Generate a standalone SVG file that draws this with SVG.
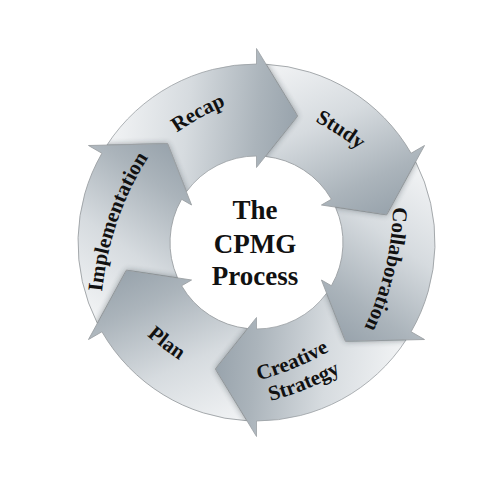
<svg xmlns="http://www.w3.org/2000/svg" xmlns:xlink="http://www.w3.org/1999/xlink" width="500" height="485" viewBox="0 0 500 485">
<style>
.arrow { fill: url(#g); stroke: #9b9fa3; stroke-width: 0.8; stroke-linejoin: miter; }
.shadow { fill: #1e2a33; opacity: 0.45; }
.lbl { font-family: "Liberation Serif", "Times New Roman", serif; font-weight: bold; font-size: 21px; fill: #111; text-anchor: middle; }
.ctr { font-family: "Liberation Serif", "Times New Roman", serif; font-weight: bold; font-size: 27px; fill: #111; text-anchor: middle; }
</style>
<defs>
<linearGradient id="g" gradientUnits="userSpaceOnUse" x1="-160" y1="-125" x2="40" y2="-105">
<stop offset="0" stop-color="#f7f8f9"/>
<stop offset="0.45" stop-color="#d6dbdf"/>
<stop offset="0.8" stop-color="#abb4bb"/>
<stop offset="1" stop-color="#98a3ac"/>
</linearGradient>
<filter id="blur" x="-50%" y="-50%" width="200%" height="200%">
<feGaussianBlur stdDeviation="3"/>
</filter>
<path id="arrow" class="arrow" d="M -149.57 -97.43 A 178.5 178.5 0 0 1 0 -178.5 L 0 -194 L 41.10 -126.49 L 0 -75 L 0 -86.5 A 86.5 86.5 0 0 0 -70.11 -50.66 L -88.99 -98.84 Z"/>
<clipPath id="clipA" clipPathUnits="userSpaceOnUse">
<path d="M -149.57 -97.43 A 178.5 178.5 0 0 1 0 -178.5 L 0 -194 L 41.10 -126.49 L 0 -75 L 0 -86.5 A 86.5 86.5 0 0 0 -70.11 -50.66 L -88.99 -98.84 Z"/>
</clipPath>
<polygon id="prevhead" class="shadow" points="-168,-97 -88.99,-98.84 -64.95,-37.5" filter="url(#blur)"/>
<path id="cwArc" d="M -150 73.7 A 300 300 0 0 1 150 73.7" transform="translate(0 0)"/>
<path id="cw" d="M -150 45.7 A 300 300 0 0 1 150 45.7"/>
<path id="ccw" d="M -150 -33.7 A 300 300 0 0 0 150 -33.7"/>
</defs>
<g id="connectors"></g>
<g id="recap">
<g transform="translate(256.5 242.5) rotate(0)">
<use xlink:href="#arrow" href="#arrow"/>
<g clip-path="url(#clipA)"><use xlink:href="#prevhead" href="#prevhead"/></g>
</g>
<text class="lbl" transform="translate(198 113) rotate(-29)"><textPath xlink:href="#cw" href="#cw" startOffset="50%">Recap</textPath></text>
</g>
<g id="study">
<g transform="translate(256.5 242.5) rotate(60)">
<use xlink:href="#arrow" href="#arrow"/>
<g clip-path="url(#clipA)"><use xlink:href="#prevhead" href="#prevhead"/></g>
</g>
<text class="lbl" transform="translate(340.5 130) rotate(33)"><textPath xlink:href="#cw" href="#cw" startOffset="50%">Study</textPath></text>
</g>
<g id="collaboration">
<g transform="translate(256.5 242.5) rotate(120)">
<use xlink:href="#arrow" href="#arrow"/>
<g clip-path="url(#clipA)"><use xlink:href="#prevhead" href="#prevhead"/></g>
</g>
<text class="lbl" transform="translate(390.5 270) rotate(103.4)"><textPath xlink:href="#cw" href="#cw" startOffset="50%">Collaboration</textPath></text>
</g>
<g id="creative-strategy">
<g transform="translate(256.5 242.5) rotate(180)">
<use xlink:href="#arrow" href="#arrow"/>
<g clip-path="url(#clipA)"><use xlink:href="#prevhead" href="#prevhead"/></g>
</g>
<text class="lbl" transform="translate(292.5 362) rotate(-22.5)"><textPath xlink:href="#ccw" href="#ccw" startOffset="50%">Creative</textPath></text>
<text class="lbl" transform="translate(304 383) rotate(-22)"><textPath xlink:href="#ccw" href="#ccw" startOffset="50%">Strategy</textPath></text>
</g>
<g id="plan">
<g transform="translate(256.5 242.5) rotate(240)">
<use xlink:href="#arrow" href="#arrow"/>
<g clip-path="url(#clipA)"><use xlink:href="#prevhead" href="#prevhead"/></g>
</g>
<text class="lbl" transform="translate(166.7 343) rotate(37)"><textPath xlink:href="#ccw" href="#ccw" startOffset="50%">Plan</textPath></text>
</g>
<g id="implementation">
<g transform="translate(256.5 242.5) rotate(300)">
<use xlink:href="#arrow" href="#arrow"/>
<g clip-path="url(#clipA)"><use xlink:href="#prevhead" href="#prevhead"/></g>
</g>
<text class="lbl" transform="translate(112 220) rotate(-71)"><textPath xlink:href="#cw" href="#cw" startOffset="50%">Implementation</textPath></text>
</g>
<g id="center">
<text class="ctr" x="255" y="219">The</text>
<text class="ctr" x="255" y="252.5">CPMG</text>
<text class="ctr" x="255" y="285">Process</text>
</g>
</svg>
